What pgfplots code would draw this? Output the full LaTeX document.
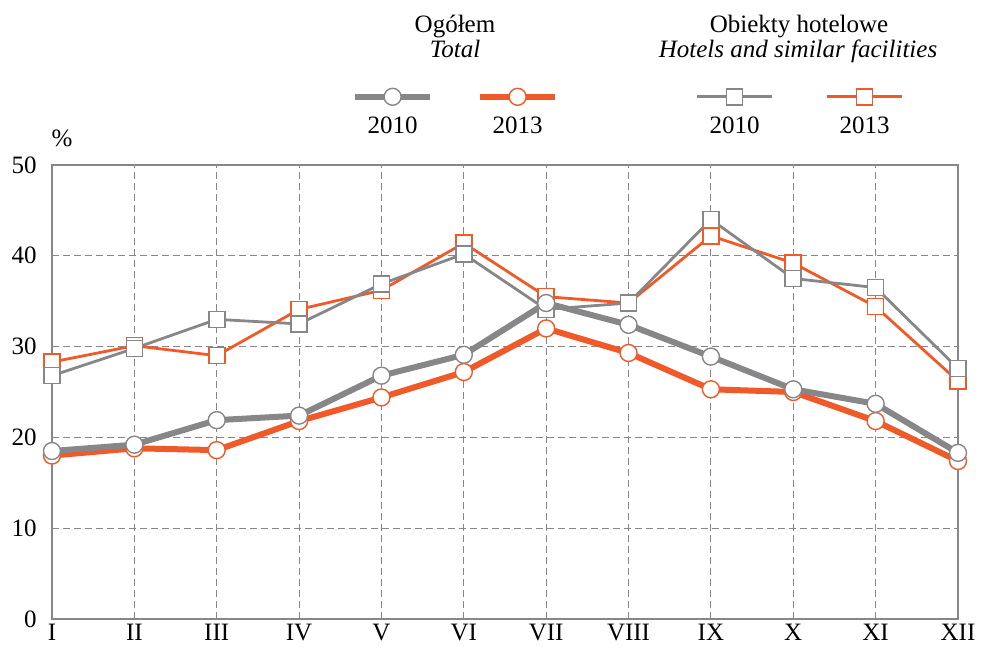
\documentclass[border=0pt]{standalone}
\usepackage{fontspec}
\setmainfont{Liberation Serif}
\usepackage{pgfplots}
\pgfplotsset{compat=1.18}
\definecolor{cgray}{HTML}{87878A}
\definecolor{corange}{HTML}{F05A28}
\pgfplotsset{
 legA/.style={legend image code/.code={\path[draw=none,fill=none] (0,0) -- (0.1pt,0); \draw[overlay,mark repeat=2,mark phase=2,##1] plot coordinates {(-4.65pt,15pt) (14.1pt,15pt) (32.85pt,15pt)};}},
 legB/.style={legend image code/.code={\path[draw=none,fill=none] (0,0) -- (34.5pt,0); \draw[overlay,mark repeat=2,mark phase=2,##1] plot coordinates {(29.75pt,15pt) (48.5pt,15pt) (67.25pt,15pt)};}},
 legC/.style={legend image code/.code={\path[draw=none,fill=none] (0,0) -- (80.5pt,0); \draw[overlay,mark repeat=2,mark phase=2,##1] plot coordinates {(75.75pt,15pt) (94.5pt,15pt) (113.25pt,15pt)};}},
 legD/.style={legend image code/.code={\path[draw=none,fill=none] (0,0) -- (37pt,0); \draw[overlay,mark repeat=2,mark phase=2,##1] plot coordinates {(32.25pt,15pt) (51pt,15pt) (69.75pt,15pt)};}},
}
\begin{document}
\begin{tikzpicture}[font=\fontsize{12.5}{15}\selectfont]
\useasboundingbox (-26pt,-20.5pt) rectangle (464.5pt,309.5pt);
\begin{axis}[
 at={(0,0)}, anchor=south west,
 scale only axis, width=453pt, height=227pt,
 xmin=1, xmax=12, ymin=0, ymax=50,
 xtick={1,...,12}, xticklabels={I,II,III,IV,V,VI,VII,VIII,IX,X,XI,XII},
 ytick={0,10,...,50},
 major tick length=0pt,
 grid=major,
 major grid style={cgray, line width=0.5pt, dash pattern=on 3.5pt off 2pt},
 axis line style={cgray, line width=0.6pt},
 tick label style={font=\fontsize{12.5}{15}\selectfont},
 /pgf/number format/assume math mode=true,
 yticklabel style={inner sep=0pt, xshift=-7.5pt},
 xticklabel style={inner sep=0pt, yshift=-2.5pt},
 legend columns=4,
 legend style={draw=none, fill=none, inner sep=0pt, column sep=0pt,
   at={(0.3444,1)}, anchor=south west, yshift=14pt,
   nodes={inner sep=0pt, text width=28pt, align=center}},
 clip=false,
]
\addplot[forget plot, corange, line width=1.4pt, mark=square*, mark size=4pt,
  mark options={fill=white, draw=corange, line width=0.8pt, solid}] coordinates {
 (1,28.3) (2,30.1) (3,29.0) (4,34.1) (5,36.2) (6,41.4) (7,35.5) (8,34.8) (9,42.2) (10,39.2) (11,34.4) (12,26.2)};
\addplot[forget plot, cgray, line width=1.4pt, mark=square*, mark size=4pt,
  mark options={fill=white, draw=cgray, line width=0.8pt, solid}] coordinates {
 (1,26.8) (2,29.8) (3,33.0) (4,32.5) (5,36.9) (6,40.2) (7,34.1) (8,34.8) (9,44.0) (10,37.5) (11,36.5) (12,27.6)};
\addplot[forget plot, corange, line width=3pt, mark=*, mark size=4.25pt,
  mark options={fill=white, draw=corange, line width=0.7pt}] coordinates {
 (1,18.0) (2,18.8) (3,18.6) (4,21.8) (5,24.4) (6,27.2) (7,32.0) (8,29.3) (9,25.3) (10,25.0) (11,21.8) (12,17.4)};
\addplot[forget plot, cgray, line width=3pt, mark=*, mark size=4.25pt,
  mark options={fill=white, draw=cgray, line width=0.7pt}] coordinates {
 (1,18.5) (2,19.2) (3,21.9) (4,22.4) (5,26.8) (6,29.1) (7,34.8) (8,32.4) (9,28.9) (10,25.3) (11,23.7) (12,18.3)};
\addlegendimage{cgray, line width=3pt, mark=*, mark size=4.25pt, mark options={fill=white, draw=cgray, line width=0.7pt}, legA}
\addlegendentry{2010}
\addlegendimage{corange, line width=3pt, mark=*, mark size=4.25pt, mark options={fill=white, draw=corange, line width=0.7pt}, legB}
\addlegendentry{2013}
\addlegendimage{cgray, line width=1.4pt, mark=square*, mark size=4pt, mark options={fill=white, draw=cgray, line width=0.8pt}, legC}
\addlegendentry{2010}
\addlegendimage{corange, line width=1.4pt, mark=square*, mark size=4pt, mark options={fill=white, draw=corange, line width=0.8pt}, legD}
\addlegendentry{2013}
\node[anchor=base] at ([xshift=201.5pt, yshift=66.5pt]axis description cs:0,1) {Ogółem};
\node[anchor=base] at ([xshift=201.5pt, yshift=54pt]axis description cs:0,1) {\itshape Total};
\node[anchor=base] at ([xshift=373.5pt, yshift=66.5pt]axis description cs:0,1) {Obiekty hotelowe};
\node[anchor=base] at ([xshift=373pt, yshift=54pt]axis description cs:0,1) {\itshape Hotels and similar facilities};
\node[anchor=base] at ([xshift=5pt, yshift=9.5pt]axis description cs:0,1) {\%};
\end{axis}
\end{tikzpicture}
\end{document}
